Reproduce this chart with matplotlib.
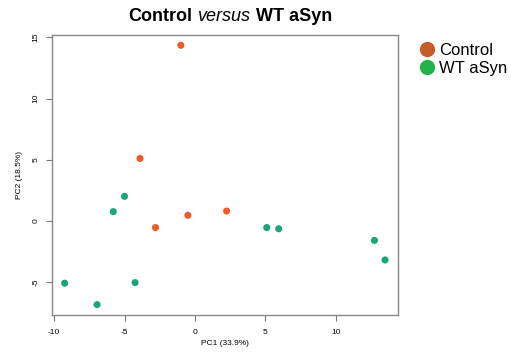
import matplotlib
matplotlib.use("Agg")
import matplotlib.pyplot as plt
from matplotlib.offsetbox import TextArea, HPacker, AnchoredOffsetbox
from matplotlib.lines import Line2D

plt.rcParams['font.family'] = ['Liberation Sans', 'DejaVu Sans']

# PCA scores
control_pc1 = [-1.0, -3.9, -2.8, -0.5, 2.25]
control_pc2 = [14.35, 5.1, -0.55, 0.45, 0.8]
wt_pc1 = [-9.25, -6.95, -5.8, -5.0, -4.25, 5.1, 5.95, 12.75, 13.5]
wt_pc2 = [-5.1, -6.85, 0.75, 2.0, -5.05, -0.55, -0.65, -1.6, -3.2]

groups = ['Control', 'WT aSyn']
point_colors = ['#EE5A28', '#1AA574']
legend_colors = ['#C75B2A', '#24B24F']
xticks = [-10, -5, 0, 5, 10]
yticks = [-5, 0, 5, 10, 15]

fig = plt.figure(figsize=(5.11, 3.60), dpi=100)
ax = fig.add_axes([0.1018, 0.125, 0.677, 0.778])

ax.scatter(control_pc1, control_pc2, s=26, color=point_colors[0], edgecolors='none', zorder=3)
ax.scatter(wt_pc1, wt_pc2, s=26, color=point_colors[1], edgecolors='none', zorder=3)

ax.set_xlim(-10.15, 14.42)
ax.set_ylim(-7.7, 15.2)
ax.set_xticks(xticks)
ax.set_yticks(yticks)
ax.set_xticklabels([str(t) for t in xticks], fontsize=6)
ax.set_yticklabels([str(t) for t in yticks], fontsize=6, rotation=90, va='center')
ax.tick_params(axis='x', length=4, width=0.8, color='#777777', pad=6)
ax.tick_params(axis='y', length=4, width=0.8, color='#777777', pad=5)
for sp in ax.spines.values():
    sp.set_color('#888888')
    sp.set_linewidth(1.0)

ax.set_xlabel('PC1 (33.9%)', fontsize=6, labelpad=3)
ax.set_ylabel('PC2 (18.5%)', fontsize=6, labelpad=7)

# title with an italic middle word
parts = [TextArea('Control', textprops=dict(fontsize=13, fontweight='bold')),
         TextArea('versus', textprops=dict(fontsize=13, fontstyle='italic')),
         TextArea('WT aSyn', textprops=dict(fontsize=13, fontweight='bold'))]
box = HPacker(children=parts, align='baseline', pad=0, sep=4)
anch = AnchoredOffsetbox(loc='center', child=box, frameon=False,
                         bbox_to_anchor=(0.45, 0.953), bbox_transform=fig.transFigure,
                         borderpad=0, pad=0)
fig.add_artist(anch)

handles = [Line2D([], [], marker='o', linestyle='none', markersize=11,
                  markerfacecolor=c, markeredgecolor='none') for c in legend_colors]
fig.legend(handles, groups, loc='upper left', bbox_to_anchor=(0.80, 0.905),
           frameon=False, fontsize=12, handletextpad=0.1, labelspacing=0.2,
           borderpad=0, handlelength=1.2)

fig.savefig('out.png', dpi=100)
